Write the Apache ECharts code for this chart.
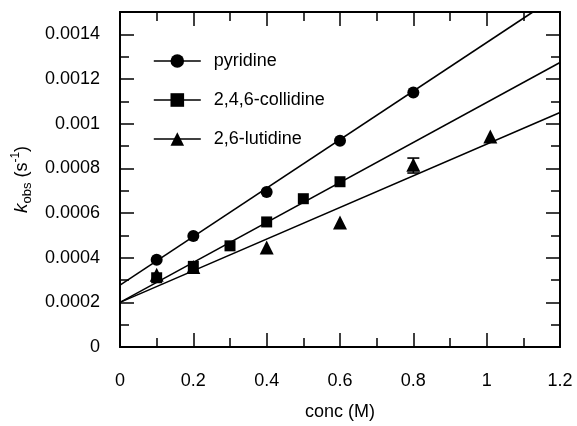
<!DOCTYPE html>
<html>
<head>
<meta charset="utf-8">
<script src="https://cdn.jsdelivr.net/npm/echarts@6/dist/echarts.min.js"></script>
<style>
    html, body { margin: 0; padding: 0; background: #fff; }
    #chart { width: 577px; height: 426px; }
</style>
</head>
<body>
<div id="chart"></div>
<script>
    // measured points
    const concPyridine = [0.1, 0.2, 0.4, 0.6, 0.8]
    const kPyridine = [0.000391, 0.000497, 0.000694, 0.000924, 0.00114]
    const concCollidine = [0.1, 0.2, 0.3, 0.4, 0.5, 0.6]
    const kCollidine = [0.00031, 0.000361, 0.000453, 0.00056, 0.000664, 0.00074]
    const concLutidine = [0.1, 0.2, 0.4, 0.6, 0.8, 1.01]
    const kLutidine = [0.000324, 0.000358, 0.000446, 0.000558, 0.000816, 0.000942]
    // error bar: [conc, low, high]
    const lutidineErr = [[0.8, 0.000779, 0.000846]]
    // fitted lines, endpoints
    const fitPyridine = [[0, 0.000277], [1.126, 0.0015]]
    const fitCollidine = [[0, 0.0002], [1.2, 0.001274]]
    const fitLutidine = [[0, 0.0002], [1.2, 0.00105]]
    const names = ['pyridine', '2,4,6-collidine', '2,6-lutidine']
    const symbols = ['circle', 'rect', 'triangle']
    const symbolSizes = [12, 11, 14]

    const font = 'Liberation Sans, Arial, sans-serif'
    const myChart = echarts.init(document.getElementById('chart'))

    const zip = (xs, ys) => xs.map((x, i) => [x, ys[i]])
    const pointSets = [zip(concPyridine, kPyridine), zip(concCollidine, kCollidine), zip(concLutidine, kLutidine)]
    const fits = [fitPyridine, fitCollidine, fitLutidine]

    let series = []
    for (let i = 0; i < 3; i++) {
        series.push({
            type: 'line',
            data: fits[i],
            showSymbol: false,
            silent: true,
            lineStyle: { color: '#000', width: 1.5 },
            z: 2
        })
    }
    for (let i = 0; i < 3; i++) {
        series.push({
            name: names[i],
            type: 'line',
            data: pointSets[i],
            symbol: symbols[i],
            symbolSize: symbolSizes[i],
            showSymbol: true,
            itemStyle: { color: '#000' },
            lineStyle: { opacity: 0, color: '#000' },
            z: 3
        })
    }
    series.push({
        type: 'custom',
        silent: true,
        data: lutidineErr,
        renderItem: function (params, api) {
            const x = api.coord([api.value(0), api.value(1)])[0]
            const lo = api.coord([api.value(0), api.value(1)])[1]
            const hi = api.coord([api.value(0), api.value(2)])[1]
            const w = 6
            const st = { stroke: '#000', lineWidth: 1.6 }
            return {
                type: 'group',
                children: [
                    { type: 'line', shape: { x1: x, y1: lo, x2: x, y2: hi }, style: st },
                    { type: 'line', shape: { x1: x - w, y1: lo, x2: x + w, y2: lo }, style: st },
                    { type: 'line', shape: { x1: x - w, y1: hi, x2: x + w, y2: hi }, style: st }
                ]
            }
        },
        z: 4
    })

    const axisLine = { show: true, onZero: false, lineStyle: { color: '#000', width: 1.8 } }
    const xBase = {
        type: 'value',
        min: 0,
        max: 1.2,
        interval: 0.2,
        axisLine: axisLine,
        axisTick: { inside: true, length: 14, lineStyle: { color: '#000', width: 1.5 } },
        minorTick: { show: true, splitNumber: 2, length: 9, lineStyle: { color: '#000', width: 1.5 } },
        splitLine: { show: false }
    }
    const yBase = {
        type: 'value',
        min: 0,
        max: 0.0015,
        axisLine: axisLine,
        splitLine: { show: false }
    }
    const yMajor = Object.assign({}, yBase, {
        interval: 0.0002,
        axisTick: { inside: true, length: 14, lineStyle: { color: '#000', width: 1.5 } }
    })
    const yMinor = Object.assign({}, yBase, {
        interval: 0.0001,
        axisTick: { inside: true, length: 9, lineStyle: { color: '#000', width: 1.5 } },
        axisLabel: { show: false }
    })

    const option = {
        animation: false,
        textStyle: { fontFamily: font },
        grid: { left: 120, top: 12, right: 17, bottom: 76, containLabel: false },
        legend: {
            orient: 'vertical',
            left: 148,
            top: 46,
            itemWidth: 47,
            itemHeight: 17,
            itemGap: 19,
            data: names,
            lineStyle: { opacity: 1, width: 1.6, color: '#000' },
            textStyle: { color: '#000', fontSize: 18, fontFamily: font, lineHeight: 20, padding: [0, 0, 0, 8] }
        },
        xAxis: [
            Object.assign({}, xBase, {
                position: 'bottom',
                name: 'conc (M)',
                nameLocation: 'middle',
                nameGap: 56,
                nameTextStyle: { color: '#000', fontSize: 18, fontFamily: font },
                axisLabel: { color: '#000', fontSize: 18, fontFamily: font, margin: 25 }
            }),
            Object.assign({}, xBase, { position: 'top', axisLabel: { show: false } })
        ],
        yAxis: [
            Object.assign({}, yMajor, {
                position: 'left',
                name: '{i|k}{sub|obs} (s{sup|-1})',
                nameLocation: 'middle',
                nameGap: 84,
                nameTextStyle: {
                    color: '#000',
                    fontSize: 18,
                    fontFamily: font,
                    rich: {
                        i: { fontStyle: 'italic', fontSize: 19, fontFamily: font, color: '#000' },
                        sub: { fontSize: 13, fontFamily: font, color: '#000', verticalAlign: 'bottom', lineHeight: 24 },
                        sup: { fontSize: 12, fontFamily: font, color: '#000', verticalAlign: 'top', lineHeight: 24 }
                    }
                },
                axisLabel: {
                    color: '#000',
                    fontSize: 18,
                    fontFamily: font,
                    margin: 20,
                    formatter: function (v) {
                        if (v > 0.00145) return ''
                        return v === 0 ? '0' : String(+v.toFixed(4))
                    }
                }
            }),
            Object.assign({}, yMinor, { position: 'left' }),
            Object.assign({}, yMajor, { position: 'right', axisLabel: { show: false } }),
            Object.assign({}, yMinor, { position: 'right' })
        ],
        tooltip: { show: false },
        series: series
    }
    myChart.setOption(option)
</script>
</body>
</html>
